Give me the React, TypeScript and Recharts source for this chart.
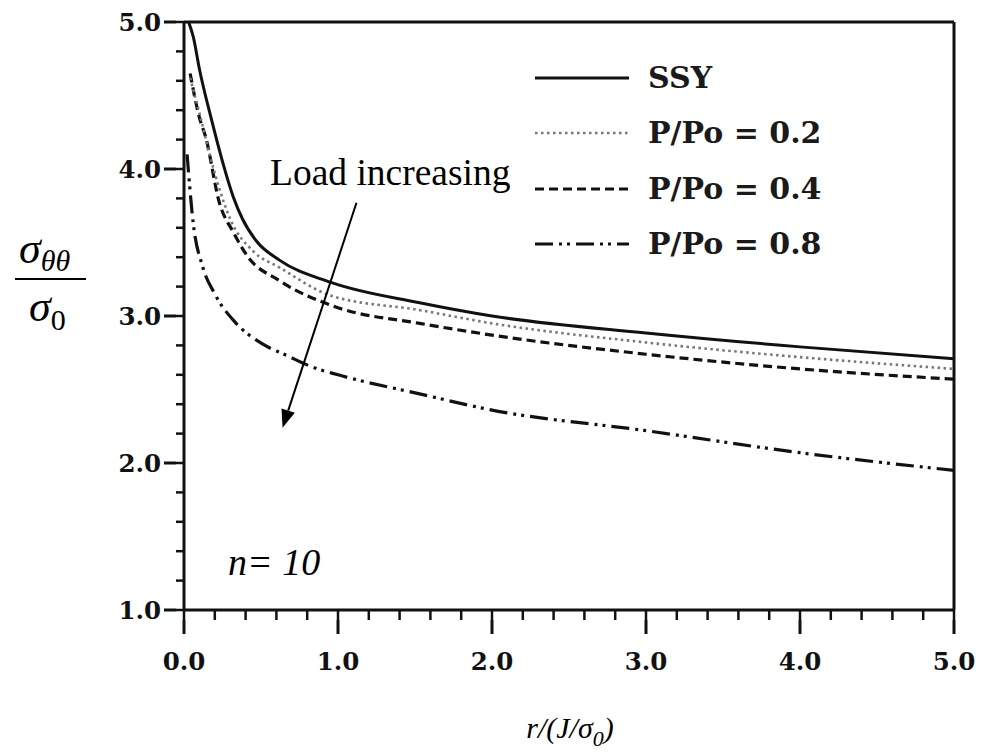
import React from 'react';
import { LineChart, Line, XAxis, YAxis, Legend, ReferenceLine, Customized } from 'recharts';

// ---------- data ----------
const xTicks = [0, 0.2, 0.4, 0.6, 0.8, 1, 1.2, 1.4, 1.6, 1.8, 2, 2.2, 2.4, 2.6, 2.8, 3, 3.2, 3.4, 3.6, 3.8, 4, 4.2, 4.4, 4.6, 4.8, 5];
const yTicks = [1, 1.2, 1.4, 1.6, 1.8, 2, 2.2, 2.4, 2.6, 2.8, 3, 3.2, 3.4, 3.6, 3.8, 4, 4.2, 4.4, 4.6, 4.8, 5];
const xMax = 5;
const yMax = 5;

const ssyX = [0.03, 0.06, 0.1, 0.18, 0.25, 0.32, 0.38, 0.47, 0.62, 0.95, 1.53, 2.0, 3.0, 4.0, 5.0];
const ssyY = [5.0, 4.9, 4.68, 4.33, 4.05, 3.81, 3.66, 3.51, 3.38, 3.23, 3.09, 3.0, 2.885, 2.79, 2.71];

const p02X = [0.04, 0.1, 0.2, 0.3, 0.45, 0.62, 0.95, 1.53, 2.0, 3.0, 4.0, 5.0];
const p02Y = [4.62, 4.38, 3.97, 3.66, 3.44, 3.33, 3.14, 3.04, 2.95, 2.82, 2.72, 2.64];

const p04X = [0.04, 0.1, 0.14, 0.23, 0.32, 0.41, 0.62, 0.99, 1.53, 2.0, 3.0, 4.0, 5.0];
const p04Y = [4.65, 4.35, 4.22, 3.77, 3.57, 3.41, 3.24, 3.06, 2.95, 2.87, 2.74, 2.64, 2.57];

const p08X = [0.02, 0.06, 0.12, 0.2, 0.33, 0.51, 0.67, 0.84, 1.0, 1.53, 2.0, 3.0, 4.0, 5.0];
const p08Y = [4.1, 3.63, 3.34, 3.15, 2.96, 2.81, 2.73, 2.65, 2.6, 2.47, 2.36, 2.22, 2.07, 1.95];

const seriesNames = ['SSY', 'P/Po = 0.2', 'P/Po = 0.4', 'P/Po = 0.8'];

const arrowStart = { x: 1.12, y: 3.77 };
const arrowEnd = { x: 0.64, y: 2.24 };

const toPoints = (xs: number[], ys: number[]) => xs.map((x, i) => ({ x, y: ys[i] }));

// ---------- styles ----------
const seriesStyles = [
  { stroke: '#111', strokeWidth: 3, dash: undefined as string | undefined },
  { stroke: '#777', strokeWidth: 2.6, dash: '2.5 3.5' },
  { stroke: '#111', strokeWidth: 3.2, dash: '9 5' },
  { stroke: '#111', strokeWidth: 3.2, dash: '18 6 3 5 3 6' },
];

const series = [
  { name: seriesNames[0], data: toPoints(ssyX, ssyY), style: seriesStyles[0] },
  { name: seriesNames[1], data: toPoints(p02X, p02Y), style: seriesStyles[1] },
  { name: seriesNames[2], data: toPoints(p04X, p04Y), style: seriesStyles[2] },
  { name: seriesNames[3], data: toPoints(p08X, p08Y), style: seriesStyles[3] },
];

const isMajor = (v: number) => Math.abs(v - Math.round(v)) < 1e-6;
const tickFont = { fontFamily: 'DejaVu Serif', fontWeight: 700, fontSize: 24.5, fill: '#111' };

const renderXTick = (props: any) => {
  const { x, y, payload } = props;
  const v = payload.value as number;
  if (!isMajor(v)) return <g />;
  return (
    <g>
      <rect x={x - 1.5} y={y - 2} width={3} height={14} fill="#111" />
      <text x={x} y={y + 48} textAnchor="middle" {...tickFont} stroke="none">
        {v.toFixed(1)}
      </text>
    </g>
  );
};

const renderYTick = (props: any) => {
  const { x, y, payload } = props;
  const v = payload.value as number;
  if (!isMajor(v)) return <g />;
  return (
    <g>
      <rect x={x - 10} y={y - 1.5} width={12} height={3} fill="#111" />
      <text x={x - 13} y={y + 9} textAnchor="end" {...tickFont} stroke="none">
        {v.toFixed(1)}
      </text>
    </g>
  );
};

const renderLegend = () => (
  <div style={{ width: 340 }}>
    {series.map((s) => (
      <div key={s.name} style={{ display: 'flex', alignItems: 'center', height: 55.5 }}>
        <svg width={94} height={10} style={{ display: 'block' }}>
          <line
            x1={0}
            x2={94}
            y1={5}
            y2={5}
            stroke={s.style.stroke}
            strokeWidth={s.style.strokeWidth}
            strokeDasharray={s.style.dash}
          />
        </svg>
        <span
          style={{
            marginLeft: 19,
            fontFamily: 'DejaVu Serif',
            fontWeight: 700,
            fontSize: 30,
            color: '#1a1a1a',
            whiteSpace: 'nowrap',
            lineHeight: '30px',
          }}
        >
          {s.name}
        </span>
      </div>
    ))}
  </div>
);

const Annotations = () => (
  <g>
    <text x={270} y={185} fontFamily="Liberation Serif" fontSize={37.5} fill="#000">
      Load increasing
    </text>
    <text x={228} y={575} fontFamily="Liberation Serif" fontStyle="italic" fontSize={38} fill="#000">
      n= 10
    </text>
    <text x={19} y={263} fontFamily="Liberation Serif" fill="#000">
      <tspan fontStyle="italic" fontSize={44}>σ</tspan>
      <tspan fontStyle="italic" fontSize={30} dy={8}>θθ</tspan>
    </text>
    <line x1={15} x2={86} y1={279} y2={279} stroke="#000" strokeWidth={2} />
    <text x={29} y={321} fontFamily="Liberation Serif" fill="#000">
      <tspan fontStyle="italic" fontSize={44}>σ</tspan>
      <tspan fontSize={30} dy={9}>0</tspan>
    </text>
    <text x={570} y={738} textAnchor="middle" fontFamily="Liberation Serif" fontStyle="italic" fill="#000">
      <tspan fontSize={30}>r/(J/σ</tspan>
      <tspan fontSize={22} dy={8}>0</tspan>
      <tspan fontSize={30} dy={-8}>)</tspan>
    </text>
  </g>
);

const ArrowShape = (p: any) => {
  const { x1, y1, x2, y2 } = p;
  const ang = Math.atan2(y2 - y1, x2 - x1);
  const len = 18;
  const half = 7;
  const bx = x2 - len * Math.cos(ang);
  const by = y2 - len * Math.sin(ang);
  const px = -Math.sin(ang) * half;
  const py = Math.cos(ang) * half;
  return (
    <g>
      <line x1={x1} y1={y1} x2={bx} y2={by} stroke="#000" strokeWidth={2} />
      <polygon points={`${x2},${y2} ${bx + px},${by + py} ${bx - px},${by - py}`} fill="#000" />
    </g>
  );
};

export default function App() {
  return (
    <div style={{ position: 'absolute', left: 0, top: 0, width: 985, height: 754 }}>
      <LineChart width={985} height={754} margin={{ top: 22, right: 31, bottom: 84, left: 104 }}>
        <XAxis
          type="number"
          dataKey="x"
          domain={[0, 5]}
          ticks={xTicks}
          interval={0}
          tickSize={10}
          tickLine={{ stroke: '#111', strokeWidth: 2.5 }}
          tick={renderXTick}
          height={60}
          axisLine={{ stroke: '#111', strokeWidth: 3 }}
        />
        <YAxis
          type="number"
          dataKey="y"
          domain={[1, 5]}
          ticks={yTicks}
          interval={0}
          tickSize={8}
          tickLine={{ stroke: '#111', strokeWidth: 2.5 }}
          tick={renderYTick}
          width={80}
          axisLine={{ stroke: '#111', strokeWidth: 3 }}
        />
        <ReferenceLine y={yMax} stroke="#111" strokeWidth={3} ifOverflow="visible" />
        <ReferenceLine x={xMax} stroke="#111" strokeWidth={3} ifOverflow="visible" />
        {[...series].reverse().map((s) => (
          <Line
            key={s.name}
            name={s.name}
            data={s.data}
            dataKey="y"
            type="monotone"
            stroke={s.style.stroke}
            strokeWidth={s.style.strokeWidth}
            strokeDasharray={s.style.dash}
            dot={false}
            activeDot={false}
            isAnimationActive={false}
          />
        ))}
        <ReferenceLine segment={[arrowStart, arrowEnd]} shape={<ArrowShape />} />
        <Legend
          layout="vertical"
          align="center"
          verticalAlign="middle"
          content={renderLegend}
          wrapperStyle={{ left: 535, top: 50, width: 340, height: 222 }}
        />
        <Customized component={<Annotations />} />
      </LineChart>
    </div>
  );
}
